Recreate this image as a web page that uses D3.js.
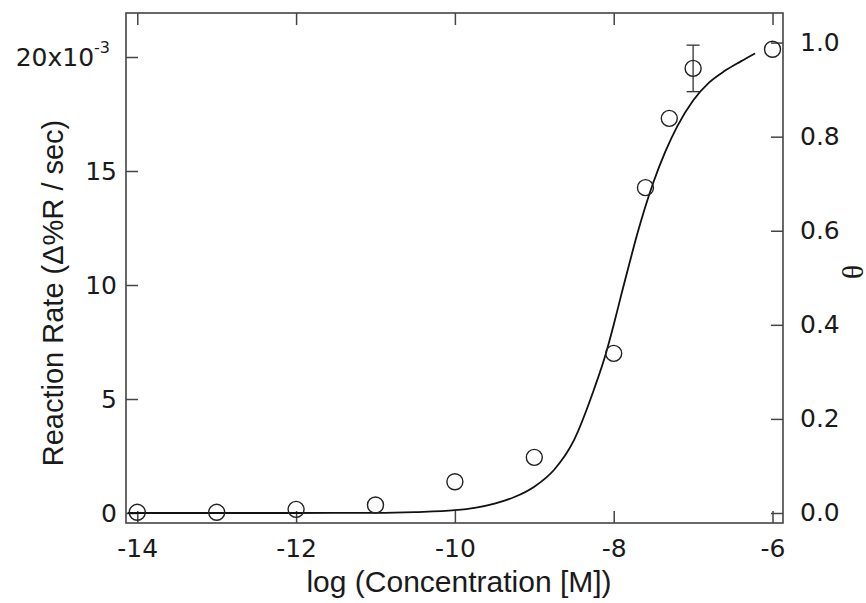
<!DOCTYPE html>
<html>
<head>
<meta charset="utf-8">
<script src="https://cdn.jsdelivr.net/npm/d3@7"></script>
<style>
  html, body { margin: 0; padding: 0; background: #fff; overflow: hidden; }
  svg { display: block; }
  .tick text { font-family: "DejaVu Sans", sans-serif; font-size: 25px; fill: #1a1a1a; }
  .tick line { stroke: #444; stroke-width: 1.5; }
  .title { font-family: "Liberation Sans", Arial, sans-serif; fill: #1a1a1a; }
</style>
</head>
<body>
<div id="chart"></div>
<script>
// measured points (log concentration vs reaction rate, x10^-3)
const logConc = [-14, -13, -12, -11, -10, -9, -8, -7.6, -7.3, -7, -6];
const rate = [0.03, 0.03, 0.16, 0.35, 1.37, 2.44, 7.0, 14.27, 17.31, 19.5, 20.34];
const rateErr = [0, 0, 0, 0, 0, 0, 0, 0, 0, 1.02, 0];

// fitted curve (theta on right axis)
const fitX = [-14.12, -12, -11, -10.5, -10, -9.75, -9.5, -9.25, -9, -8.75, -8.5, -8.25, -8.1, -8,
  -7.9, -7.8, -7.7, -7.6, -7.5, -7.35, -7.2, -7, -6.8, -6.6, -6.4, -6.22];
const fitTheta = [0, 0, 0.0003, 0.002, 0.006, 0.011, 0.02, 0.034, 0.056, 0.092, 0.155, 0.262, 0.338, 0.4,
  0.467, 0.532, 0.595, 0.652, 0.703, 0.768, 0.822, 0.877, 0.915, 0.94, 0.96, 0.977];

const xTicks = [-14, -12, -10, -8, -6];
const rateTicks = [0, 5, 10, 15, 20];
const thetaTicks = [0, 0.2, 0.4, 0.6, 0.8, 1.0];

const width = 866;
const height = 603;
const margin = { top: 13, right: 83, bottom: 80, left: 126 };
const innerWidth = width - margin.left - margin.right;
const innerHeight = height - margin.top - margin.bottom;

const svg = d3.select('#chart').append('svg')
  .attr('width', width)
  .attr('height', height);

const plot = svg.append('g').attr('transform', `translate(${margin.left},${margin.top})`);

const x = d3.scaleLinear().domain([-14.142, -5.868]).range([0, innerWidth]);
const yRate = d3.scaleLinear().domain([-0.4386, 21.93]).range([innerHeight, 0]);
const yTheta = d3.scaleLinear().domain([-0.02126, 1.0629]).range([innerHeight, 0]);

// axes, ticks pointing inwards; plain hyphen for negatives
plot.append('g')
  .attr('transform', `translate(0,${innerHeight})`)
  .call(d3.axisBottom(x).tickValues(xTicks).tickSize(-12).tickPadding(16).tickFormat((d) => String(d)));

plot.append('g')
  .call(d3.axisTop(x).tickValues(xTicks).tickSize(-12).tickFormat(''));

const leftAxis = plot.append('g')
  .call(d3.axisLeft(yRate).tickValues(rateTicks).tickSize(-12).tickPadding(9).tickFormat((d) => String(d)));

plot.append('g')
  .attr('transform', `translate(${innerWidth},0)`)
  .call(d3.axisRight(yTheta).tickValues(thetaTicks).tickSize(-12).tickPadding(17).tickFormat(d3.format('.1f')));

plot.selectAll('.domain').remove();

// top label gets the exponent
leftAxis.selectAll('.tick')
  .filter((d) => d === 20)
  .select('text')
  .attr('x', -16)
  .text('20x10')
  .append('tspan')
  .attr('dy', -13)
  .attr('font-size', 16)
  .text('-3');

// frame
plot.append('rect')
  .attr('width', innerWidth)
  .attr('height', innerHeight)
  .attr('fill', 'none')
  .attr('stroke', '#444')
  .attr('stroke-width', 1.6);

// fit curve
const fit = fitX.map((v, i) => ({ x: v, theta: fitTheta[i] }));
plot.append('path')
  .datum(fit)
  .attr('fill', 'none')
  .attr('stroke', '#111')
  .attr('stroke-width', 1.8)
  .attr('d', d3.line()
    .x((d) => x(d.x))
    .y((d) => yTheta(d.theta))
    .curve(d3.curveMonotoneX));

const points = logConc.map((v, i) => ({ x: v, y: rate[i], err: rateErr[i] }));

// error bars
const bars = plot.append('g')
  .selectAll('g')
  .data(points.filter((d) => d.err > 0))
  .join('g')
  .attr('stroke', '#333')
  .attr('stroke-width', 1.3);

bars.append('line')
  .attr('x1', (d) => x(d.x))
  .attr('x2', (d) => x(d.x))
  .attr('y1', (d) => yRate(d.y - d.err))
  .attr('y2', (d) => yRate(d.y + d.err));

bars.selectAll('.cap')
  .data((d) => [d.y - d.err, d.y + d.err].map((v) => ({ x: d.x, v })))
  .join('line')
  .attr('class', 'cap')
  .attr('x1', (d) => x(d.x) - 6.5)
  .attr('x2', (d) => x(d.x) + 6.5)
  .attr('y1', (d) => yRate(d.v))
  .attr('y2', (d) => yRate(d.v));

plot.append('g')
  .selectAll('circle')
  .data(points)
  .join('circle')
  .attr('cx', (d) => x(d.x))
  .attr('cy', (d) => yRate(d.y))
  .attr('r', 8)
  .attr('fill', 'none')
  .attr('stroke', '#222')
  .attr('stroke-width', 1.4);

// titles
svg.append('text')
  .attr('class', 'title')
  .attr('transform', 'translate(63,293) rotate(-90)')
  .attr('text-anchor', 'middle')
  .attr('font-size', 29)
  .text('Reaction Rate (Δ%R / sec)');

svg.append('text')
  .attr('class', 'title')
  .attr('x', 459)
  .attr('y', 592)
  .attr('text-anchor', 'middle')
  .attr('font-size', 30)
  .text('log (Concentration [M])');

svg.append('text')
  .attr('transform', 'translate(852,272) rotate(90)')
  .attr('text-anchor', 'middle')
  .attr('dominant-baseline', 'central')
  .attr('font-family', '"Liberation Serif", serif')
  .attr('font-size', 30)
  .attr('fill', '#1a1a1a')
  .text('θ');
</script>
</body>
</html>
